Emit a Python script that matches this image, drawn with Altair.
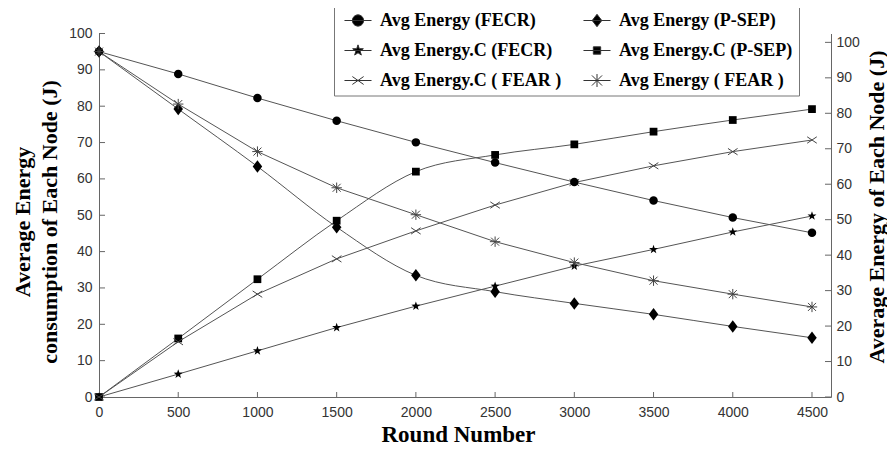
import altair as alt
import pandas as pd

# ---------------- data ----------------
rounds = [0, 500, 1000, 1500, 2000, 2500, 3000, 3500, 4000, 4500]

# right axis: Average Energy of Each Node (J)
energy_fecr = [97.4, 91.1, 84.3, 77.9, 71.8, 66.1, 60.6, 55.4, 50.6, 46.3]
energy_psep = [97.4, 81.2, 65.0, 47.9, 34.3, 29.7, 26.4, 23.3, 19.9, 16.7]
energy_fear = [97.4, 82.6, 69.2, 59.0, 51.4, 43.8, 37.9, 32.8, 29.0, 25.4]

# left axis: Average Energy consumption of Each Node (J)
cons_fecr = [0, 6.3, 12.7, 19.1, 25.0, 30.5, 36.0, 40.6, 45.4, 49.8]
cons_psep = [0, 16.1, 32.4, 48.5, 62.0, 66.6, 69.5, 73.0, 76.2, 79.2]
cons_fear = [0, 15.2, 28.3, 38.0, 45.7, 52.8, 59.0, 63.6, 67.5, 70.7]

# legend order (filled column by column: left column first)
series_names = [
    "Avg Energy (FECR)",
    "Avg Energy.C (FECR)",
    "Avg Energy.C ( FEAR )",
    "Avg Energy (P-SEP)",
    "Avg Energy.C (P-SEP)",
    "Avg Energy ( FEAR )",
]
N_E_FECR, N_C_FECR, N_C_FEAR, N_E_PSEP, N_C_PSEP, N_E_FEAR = series_names

y_ticks = list(range(0, 101, 10))
x_ticks = list(range(0, 4501, 500))

# ---------------- tables ----------------
right_sets = [(N_E_FECR, energy_fecr), (N_E_PSEP, energy_psep), (N_E_FEAR, energy_fear)]
left_sets = [(N_C_FECR, cons_fecr), (N_C_PSEP, cons_psep), (N_C_FEAR, cons_fear)]

rows = []
for name, arr in right_sets:
    for r, v in zip(rounds, arr):
        rows.append({"round": r, "value": v, "series": name, "side": "right"})
for name, arr in left_sets:
    for r, v in zip(rounds, arr):
        rows.append({"round": r, "value": v, "series": name, "side": "left"})
df = pd.DataFrame(rows)
right_df = df[df.side == "right"]
left_df = df[df.side == "left"]

ytick_df = pd.DataFrame({"t": y_ticks})
xtick_df = pd.DataFrame({"t": x_ticks[1:]})

W = 732
H = 363.5

# ---------------- marker shapes ----------------
STAR = "M0,-1L0.235,-0.324L0.951,-0.309L0.38,0.124L0.588,0.809L0,0.4L-0.588,0.809L-0.38,0.124L-0.951,-0.309L-0.235,-0.324Z"
DIAMOND = "M0,-1.25L0.95,0L0,1.25L-0.95,0Z"
XMARK = "M-1.2,-0.8L1.2,0.8M-1.2,0.8L1.2,-0.8"
ASTER = "M-1,-1L1,1M-1,1L1,-1M0,-1.3L0,1.3M-1.3,0L1.3,0"

LINE = "M-2.4,0L2.4,0"
legend_paths = [
    LINE + "M1,0A1,1,0,1,1,-1,0A1,1,0,1,1,1,0Z",
    LINE + "M0,-1L0.235,-0.324L0.951,-0.309L0.38,0.124L0.588,0.809L0,0.4L-0.588,0.809L-0.38,0.124L-0.951,-0.309L-0.235,-0.324Z",
    LINE + "M-1,-0.7L1,0.7M-1,0.7L1,-0.7",
    LINE + "M0,-1.1L0.85,0L0,1.1L-0.85,0Z",
    LINE + "M-0.65,-0.65L0.65,-0.65L0.65,0.65L-0.65,0.65Z",
    LINE + "M-0.9,-0.9L0.9,0.9M-0.9,0.9L0.9,-0.9M0,-1.15L0,1.15M-1.15,0L1.15,0",
]

# ---------------- scales & axes ----------------
x_scale = alt.Scale(domain=[0, 4620], nice=False, zero=False)
left_scale = alt.Scale(domain=[0, 100], nice=False)
right_scale = alt.Scale(domain=[0, 102.5], nice=False)

common = dict(
    labelFont="Liberation Sans", labelFontSize=14, labelColor="#333",
    labelFlush=False, ticks=False, tickSize=0, domainColor="#666",
    domainWidth=1, grid=False,
    titleFont="Liberation Serif", titleFontSize=22, titleFontWeight="bold",
    titleColor="black", titleAlign="center",
)

x_axis = alt.Axis(values=x_ticks, format="d", title="Round Number", labelPadding=8,
                  titleX=359, titleY=44, titleBaseline="alphabetic", titleFontSize=23,
                  **{k: v for k, v in common.items() if k != "titleFontSize"})
left_axis = alt.Axis(values=y_ticks, orient="left",
                     title=["Average Energy", "consumption of Each Node (J)"],
                     labelPadding=7, titleAngle=270, titleX=-77, titleY=188,
                     titleBaseline="middle", titleLineHeight=27, **common)
right_axis = alt.Axis(values=y_ticks, orient="right",
                      title="Average Energy of Each Node (J)",
                      labelPadding=5, titleAngle=270, titleX=45, titleY=173,
                      titleBaseline="middle", **common)

X = alt.X("round:Q", scale=x_scale, axis=x_axis)
YL = alt.Y("value:Q", scale=left_scale, axis=left_axis)
YR = alt.Y("value:Q", scale=right_scale, axis=right_axis)

LINE_COLOR = "#555"


def lines(data, y, names, interp):
    return alt.Chart(data).transform_filter(
        alt.FieldOneOfPredicate(field="series", oneOf=names)
    ).mark_line(color=LINE_COLOR, strokeWidth=1, interpolate=interp).encode(
        x=X, y=y, detail="series:N"
    )


def points(data, y, name, **mk):
    return alt.Chart(data).transform_filter(alt.datum.series == name).mark_point(**mk).encode(x=X, y=y)


filled = dict(filled=True, color="black", opacity=1)
hollow = dict(filled=False, color="#444", strokeWidth=1, opacity=1)

left_group = alt.layer(
    lines(left_df, YL, [N_C_FECR, N_C_FEAR], "linear"),
    lines(left_df, YL, [N_C_PSEP], "monotone"),
    alt.Chart(ytick_df).mark_rule(color="#666").encode(
        y=alt.Y("t:Q", scale=left_scale, axis=left_axis), x=alt.value(0), x2=alt.value(6)),
    alt.Chart(xtick_df).mark_rule(color="#666").encode(
        x=alt.X("t:Q", scale=x_scale, axis=x_axis), y=alt.value(H - 5), y2=alt.value(H)),
    points(left_df, YL, N_C_FECR, shape=STAR, size=90, **filled),
    points(left_df, YL, N_C_PSEP, shape="square", size=60, **filled),
    points(left_df, YL, N_C_FEAR, shape=XMARK, size=64, **hollow),
)

right_group = alt.layer(
    lines(right_df, YR, [N_E_FECR, N_E_FEAR], "linear"),
    lines(right_df, YR, [N_E_PSEP], "monotone"),
    alt.Chart(ytick_df).mark_rule(color="#666").encode(
        y=alt.Y("t:Q", scale=right_scale, axis=right_axis), x=alt.value(W - 6), x2=alt.value(W)),
    points(right_df, YR, N_E_FECR, shape="circle", size=72, **filled),
    points(right_df, YR, N_E_PSEP, shape=DIAMOND, size=100, **filled),
    points(right_df, YR, N_E_FEAR, shape=ASTER, size=64, **hollow),
)

legend_def = alt.Legend(
    title=None, orient="none", legendX=235, legendY=-28, columns=2,
    labelFont="Liberation Serif", labelFontWeight="bold", labelFontSize=18,
    labelColor="black", labelLimit=400, labelOffset=13, symbolOffset=9,
    symbolSize=127, symbolStrokeWidth=1, padding=6, rowPadding=12,
    columnPadding=17, strokeColor="#777", fillColor="white", cornerRadius=0,
)

legend_layer = alt.Chart(df).transform_filter("false").mark_point(
    filled=True, strokeWidth=1, size=127, opacity=1
).encode(
    shape=alt.Shape("series:N", scale=alt.Scale(domain=series_names, range=legend_paths),
                    legend=legend_def),
    fill=alt.Fill("series:N", scale=alt.Scale(domain=series_names, range=["black"] * 6),
                  legend=legend_def),
    stroke=alt.Stroke("series:N", scale=alt.Scale(domain=series_names, range=["#333"] * 6),
                      legend=legend_def),
)

chart = alt.layer(left_group, right_group, legend_layer).resolve_scale(
    y="independent"
).properties(
    width=W, height=H,
    padding={"left": 91, "top": 25.5, "right": 56, "bottom": 50},
    autosize=alt.AutoSizeParams(type="none"),
    background="white",
).configure_view(stroke=None)

chart.save("out.html", embed_options={"renderer": "svg", "actions": False})
